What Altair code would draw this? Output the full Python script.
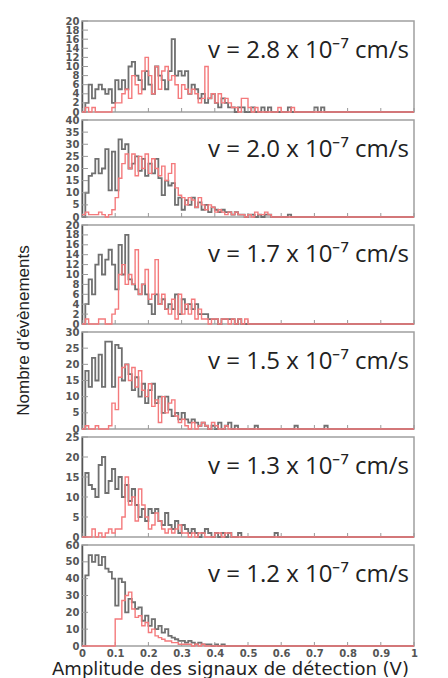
import altair as alt
import pandas as pd

# ---------------- data (counts per 0.01 V bin) ----------------
speeds = ["2.8", "2.0", "1.7", "1.5", "1.3", "1.2"]
y_max = [20, 40, 20, 30, 25, 60]
y_ticks = [
    [0, 2, 4, 6, 8, 10, 12, 14, 16, 18, 20],
    [0, 5, 10, 15, 20, 25, 30, 35, 40],
    [0, 2, 4, 6, 8, 10, 12, 14, 16, 18, 20],
    [0, 5, 10, 15, 20, 25, 30],
    [0, 5, 10, 15, 20, 25],
    [0, 10, 20, 30, 40, 50, 60],
]
x_ticks = [0, 0.1, 0.2, 0.3, 0.4, 0.5, 0.6, 0.7, 0.8, 0.9, 1.0]

gray_28 = [0, 2, 6, 3, 5, 6, 5, 4, 5, 2, 7, 5, 7, 5, 10, 11, 8, 7, 5, 9,
           6, 4, 10, 8, 7, 5, 9, 16, 8, 9, 8, 9, 4, 6, 5, 3, 4, 2, 3, 4,
           2, 1, 3, 2, 1, 1, 0, 1, 1, 0, 0, 1, 0, 0, 1, 0, 1, 0, 0, 0,
           0, 0, 1, 0, 0, 0, 0, 0, 0, 0, 1, 0, 1]
pink_28 = [0, 1, 0, 1, 0, 0, 0, 0, 0, 1, 2, 2, 4, 5, 3, 8, 6, 4, 9, 12,
           8, 4, 10, 5, 9, 10, 7, 8, 6, 3, 6, 5, 4, 5, 4, 2, 3, 10, 3, 4,
           2, 4, 2, 3, 2, 1, 1, 0, 3, 3, 1, 0, 1, 0, 0, 0, 0, 0, 0, 1,
           0, 0, 0, 1]
gray_20 = [0, 10, 17, 18, 24, 18, 20, 28, 11, 27, 11, 32, 28, 30, 20, 22, 25, 19, 24, 17,
           22, 18, 24, 16, 9, 15, 13, 14, 5, 8, 3, 7, 5, 8, 4, 6, 3, 5, 2, 4,
           3, 2, 3, 2, 2, 1, 2, 1, 1, 0, 1, 1, 0, 1, 0, 1, 1, 0, 0, 0,
           0, 0, 1]
pink_20 = [1, 2, 1, 1, 1, 2, 1, 0, 1, 3, 8, 16, 22, 26, 20, 26, 17, 25, 20, 26,
           18, 24, 20, 17, 21, 15, 18, 22, 12, 9, 8, 5, 8, 7, 4, 8, 5, 3, 5, 4,
           2, 3, 2, 1, 2, 1, 2, 1, 1, 0, 1, 0, 2, 1, 1, 2, 1]
gray_17 = [0, 4, 9, 6, 12, 14, 10, 13, 15, 12, 7, 16, 10, 18, 9, 8, 7, 6, 8, 6,
           4, 2, 6, 4, 5, 3, 4, 3, 6, 2, 5, 3, 4, 3, 4, 2, 2, 2, 1, 1,
           1, 0, 1, 1, 1, 1, 0, 1]
pink_17 = [0, 1, 0, 0, 0, 1, 1, 0, 0, 2, 3, 10, 12, 8, 10, 8, 15, 6, 8, 11,
           5, 6, 13, 4, 6, 3, 2, 5, 1, 6, 2, 4, 2, 5, 1, 3, 1, 1, 0, 1,
           1, 0, 1, 1, 0, 1, 0, 1, 0, 1]
gray_15 = [0, 18, 13, 22, 15, 23, 13, 27, 27, 13, 26, 25, 15, 20, 17, 12, 16, 10, 14, 8,
           12, 14, 8, 10, 5, 10, 6, 4, 5, 3, 5, 3, 2, 3, 2, 1, 2, 1, 0, 1,
           0, 2, 0, 1, 2, 0, 1, 0, 0, 0, 0, 0, 1, 0, 0, 0, 0, 0, 0, 0,
           0, 0, 0, 0, 1, 0, 0, 0, 0, 0, 0, 0, 0, 1]
pink_15 = [0, 1, 0, 0, 1, 0, 0, 0, 1, 8, 6, 16, 19, 20, 15, 19, 13, 18, 12, 10,
           14, 7, 9, 2, 10, 5, 8, 9, 4, 2, 3, 1, 0, 2, 0, 1, 2, 1, 0, 2,
           1, 0, 0, 1]
gray_13 = [0, 16, 13, 12, 10, 18, 20, 11, 14, 17, 12, 15, 10, 13, 9, 12, 8, 5, 7, 4,
           7, 6, 7, 4, 3, 6, 3, 2, 4, 1, 3, 2, 1, 2, 1, 0, 1, 2, 1, 0,
           1, 0, 1, 0, 1, 0, 0, 1, 0, 0, 0, 0, 0, 0, 0, 0, 0, 0, 1]
pink_13 = [0, 0, 0, 2, 0, 1, 0, 1, 2, 1, 2, 2, 5, 15, 8, 10, 4, 12, 8, 5,
           2, 3, 6, 4, 2, 1, 2, 1, 2, 3, 1, 1, 0, 1, 0, 1, 1, 0, 0, 0,
           1, 1, 0, 1, 1]
gray_12 = [0, 42, 54, 50, 54, 48, 53, 46, 44, 40, 24, 40, 38, 20, 28, 26, 22, 23, 15, 18,
           12, 16, 10, 12, 8, 10, 6, 5, 4, 3, 3, 2, 3, 2, 1, 2, 1, 1, 1, 0,
           1, 0, 1]
pink_12 = [0, 0, 0, 0, 0, 0, 0, 0, 0, 0, 16, 16, 27, 30, 32, 22, 17, 18, 12, 14,
           8, 10, 6, 5, 4, 3, 3, 2, 2, 1, 1, 1, 1, 0, 1, 0, 1]

gray_series = [gray_28, gray_20, gray_17, gray_15, gray_13, gray_12]
pink_series = [pink_28, pink_20, pink_17, pink_15, pink_13, pink_12]

# ---------------- layout / style ----------------
W = 332
heights = [91, 97, 99, 97, 100, 101]
GRAY = "#707070"
PINK = "#f47a7c"
N_BINS = 100


def hist_frame(counts):
    c = list(counts) + [0] * (N_BINS - len(counts))
    xs = [k / N_BINS for k in range(N_BINS + 1)]
    return pd.DataFrame({"x": xs, "n": c + [c[-1]]})


def panel(i):
    last = i == 5
    h = heights[i]
    xscale = alt.Scale(domain=[0, 1], nice=False, zero=False)
    yscale = alt.Scale(domain=[0, y_max[i]], nice=False)
    if last:
        xaxis = alt.Axis(values=x_ticks, format="~g", ticks=False, domain=False,
                         grid=False, labelFlush=False, labelPadding=2,
                         labelFont="DejaVu Sans", labelFontSize=10, labelFontWeight="bold",
                         labelColor="#555",
                         title="Amplitude des signaux de détection (V)",
                         titleFont="DejaVu Sans", titleFontSize=18, titleFontWeight="normal",
                         titleColor="#222", titleX=148, titleY=14,
                         titleAlign="center", titleBaseline="top")
    else:
        xaxis = alt.Axis(values=x_ticks, labels=False, ticks=False, domain=False,
                         grid=False, title=None)
    ytitle = "Nombre d'évènements" if i == 2 else ""
    yaxis_kw = dict(values=y_ticks[i], ticks=False, grid=False, labelOverlap=False,
                    labelFont="DejaVu Sans", labelFontSize=10, labelFontWeight="bold",
                    labelColor="#555", labelPadding=3, domainColor="#555",
                    domainWidth=1.5, title=ytitle)
    if i == 2:
        yaxis_kw.update(titleFont="Liberation Sans", titleFontSize=17,
                        titleFontWeight="normal", titleColor="#222",
                        titleX=-59, titleY=105, titleAlign="center",
                        titleBaseline="middle", titleAngle=270)
    yaxis = alt.Axis(**yaxis_kw)

    X = alt.X("x:Q", scale=xscale, axis=xaxis)
    Y = alt.Y("n:Q", scale=yscale, axis=yaxis)

    g = alt.Chart(hist_frame(gray_series[i])).mark_line(
        interpolate="step-after", color=GRAY, strokeWidth=1.8).encode(x=X, y=Y)
    p = alt.Chart(hist_frame(pink_series[i])).mark_line(
        interpolate="step-after", color=PINK, strokeWidth=1.4).encode(x=X, y=Y)

    ytk = alt.Chart(pd.DataFrame({"n": y_ticks[i]})).mark_rule(
        color="#999", strokeWidth=1).encode(
        y=Y, x=alt.value(0), x2=alt.value(6))
    xtk = alt.Chart(pd.DataFrame({"x": x_ticks})).mark_rule(
        color="#999", strokeWidth=1).encode(
        x=X, y=alt.value(h), y2=alt.value(h - 4))

    txt = alt.Chart(pd.DataFrame({"t": [f"v = {speeds[i]} x 10⁻⁷ cm/s"]})).mark_text(
        align="right", baseline="middle", font="Open Sans", fontSize=24, color="#222"
    ).encode(x=alt.value(W - 5), y=alt.value(30), text="t:N")

    return alt.layer(g, ytk, xtk, p, txt).properties(width=W, height=h)


chart = alt.vconcat(*[panel(i) for i in range(6)], spacing=8, bounds="flush").properties(
    padding={"left": 5, "top": 7, "right": 5, "bottom": 0}
).configure_view(stroke="#a0a0a0", strokeWidth=1.5)

chart.save("out.html", embed_options={"renderer": "svg", "actions": False})
